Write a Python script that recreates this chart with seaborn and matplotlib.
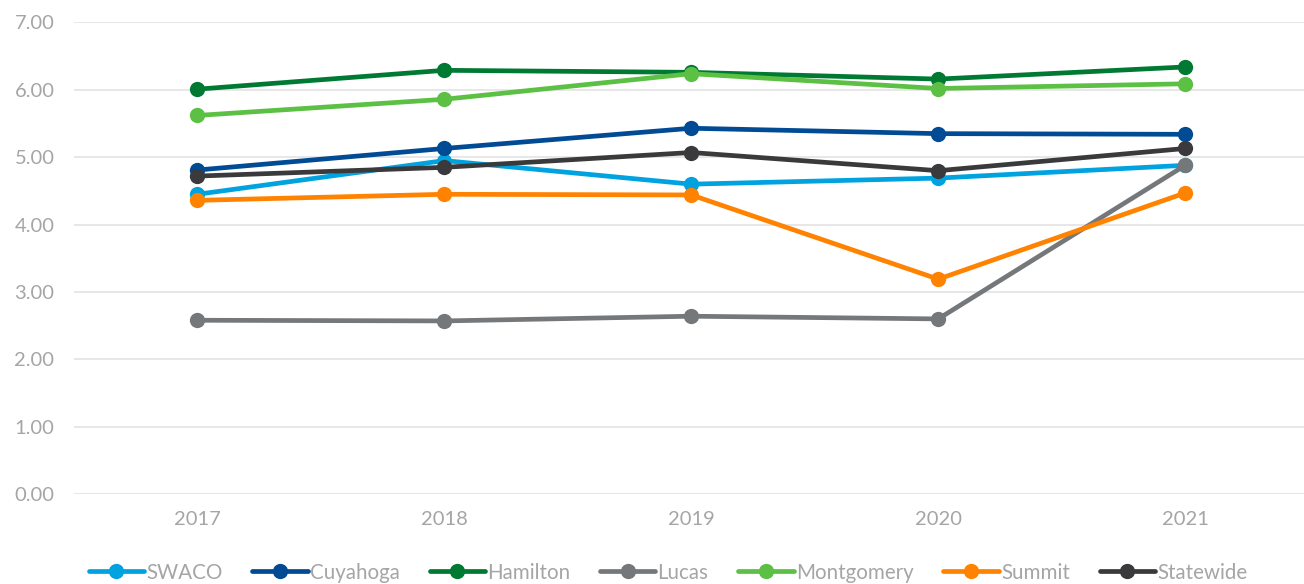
import pandas as pd
import matplotlib.pyplot as plt
import seaborn as sns

years = ["2017", "2018", "2019", "2020", "2021"]
regions = ["SWACO", "Cuyahoga", "Hamilton", "Lucas", "Montgomery", "Summit", "Statewide"]

swaco = [4.45, 4.95, 4.60, 4.69, 4.88]
cuyahoga = [4.81, 5.13, 5.43, 5.35, 5.34]
hamilton = [6.01, 6.29, 6.26, 6.16, 6.34]
lucas = [2.58, 2.57, 2.64, 2.60, 4.88]
montgomery = [5.62, 5.86, 6.24, 6.02, 6.09]
summit = [4.36, 4.45, 4.44, 3.19, 4.47]
statewide = [4.72, 4.85, 5.07, 4.80, 5.13]

colors = ["#00A3E0", "#004B93", "#007A33", "#75787B", "#5BC043", "#FF8200", "#3A3A3C"]

series = [swaco, cuyahoga, hamilton, lucas, montgomery, summit, statewide]
rows = []
for name, vals in zip(regions, series):
    for yr, v in zip(years, vals):
        rows.append({"Year": yr, "Region": name, "Value": v})
df = pd.DataFrame(rows)

sns.set_style("white")
plt.rcParams["font.family"] = ["Lato", "DejaVu Sans"]
text_grey = "#A5A5A5"

fig = plt.figure(figsize=(13.04, 5.84), dpi=100)
ax = fig.add_axes([0.0567, 0.154, 0.945, 0.8075])

sns.lineplot(data=df, x="Year", y="Value", hue="Region", hue_order=regions,
             palette=colors, marker="o", markersize=11, markeredgewidth=0,
             linewidth=3.4, ax=ax, sort=False)

ax.set_ylim(0, 7)
ax.set_xlim(-0.5, 4.49)
ax.set_yticks(range(0, 8))
ax.set_yticklabels([f"{v:.2f}" for v in range(0, 8)])
ax.yaxis.grid(True, color="#E3E3E3", linewidth=1.2)
ax.set_axisbelow(True)
for s in ax.spines.values():
    s.set_visible(False)
ax.tick_params(axis="both", length=0, labelsize=14.5, colors=text_grey)
ax.tick_params(axis="x", pad=12)
ax.tick_params(axis="y", pad=14)
ax.set_xlabel("")
ax.set_ylabel("")

ax.legend(loc="upper center", bbox_to_anchor=(0.482, -0.106), ncol=7, frameon=False,
          fontsize=14.8, labelcolor=text_grey, handlelength=2.7, handletextpad=0.1,
          columnspacing=1.45, markerscale=1.0)

fig.savefig("out.png", dpi=100)
